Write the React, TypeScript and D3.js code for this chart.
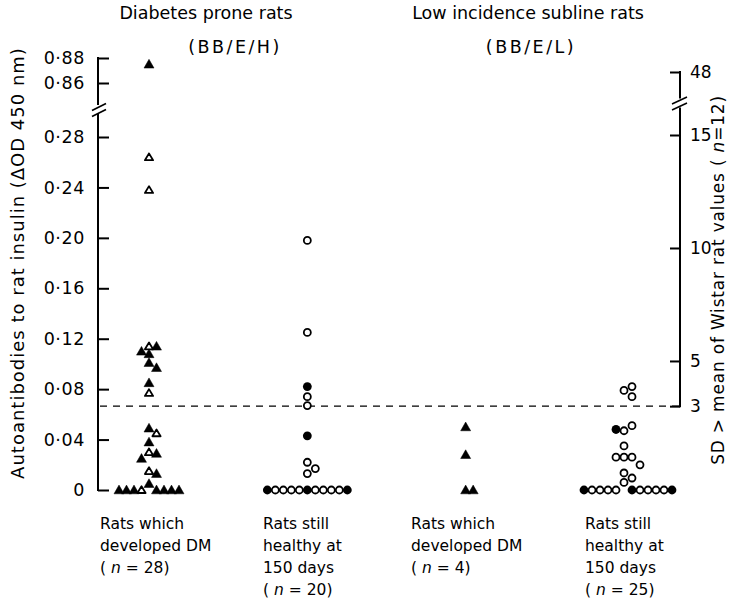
import React, { useRef, useEffect } from "react";
import * as d3 from "d3";

const width = 743;
const height = 598;

const groups = ["dmBBEH", "healthyBBEH", "dmBBEL", "healthyBBEL"];
const groupLabels = [
  ["Rats which", "developed DM", "(|28)"],
  ["Rats still", "healthy at", "150 days", "(|20)"],
  ["Rats which", "developed DM", "(|4)"],
  ["Rats still", "healthy at", "150 days", "(|25)"],
];

// autoantibody values (ΔOD 450 nm), listed top to bottom; 1 = filled symbol, 0 = open
const dmBBEH = [0.875, 0.264, 0.238, 0.114, 0.114, 0.110, 0.108, 0.101, 0.097, 0.085, 0.077,
  0.049, 0.045, 0.038, 0.030, 0.029, 0.025, 0.015, 0.013, 0.005, 0, 0, 0, 0, 0, 0, 0, 0];
const dmBBEHFill = [1, 0, 0, 0, 1, 1, 1, 1, 1, 1, 0,
  1, 0, 1, 0, 1, 1, 0, 1, 1, 1, 0, 1, 1, 1, 1, 1, 1];
const healthyBBEH = [0.198, 0.125, 0.082, 0.074, 0.067, 0.043, 0.022, 0.017, 0.013,
  0, 0, 0, 0, 0, 0, 0, 0, 0, 0, 0];
const healthyBBEHFill = [0, 0, 1, 0, 0, 1, 0, 0, 0,
  1, 0, 0, 0, 0, 0, 0, 0, 0, 1, 1];
const dmBBEL = [0.050, 0.028, 0, 0];
const dmBBELFill = [1, 1, 1, 1];
const healthyBBEL = [0.079, 0.082, 0.074, 0.047, 0.051, 0.048, 0.035, 0.026, 0.026, 0.026, 0.020,
  0.0135, 0.0095, 0.006, 0, 0, 0, 0, 0, 0, 0, 0, 0, 0, 0];
const healthyBBELFill = [0, 0, 0, 0, 0, 1, 0, 0, 0, 0, 0,
  0, 0, 0, 1, 0, 0, 0, 0, 0, 0, 0, 0, 1, 1];

const groupValues = [dmBBEH, healthyBBEH, dmBBEL, healthyBBEL];
const groupFills = [dmBBEHFill, healthyBBEHFill, dmBBELFill, healthyBBELFill];
const groupShape = ["triangle", "circle", "triangle", "circle"];

const odTicksLow = [0, 0.04, 0.08, 0.12, 0.16, 0.2, 0.24, 0.28];
const odTicksHigh = [0.86, 0.88];
const sdTicksLow = [3, 5, 10, 15];
const sdTicksHigh = [48];
const sdCutoff = 3;

const font = "DejaVu Sans, sans-serif";
const axisLeftX = 98;
const axisRightX = 680;

const fmtOD = (d: number) => (d === 0 ? "0" : d3.format(".2f")(d).replace(".", "·"));

// place points of one column side by side where they would overlap
function dodge(values: number[], cx: number, y: (v: number) => number, step: number, minDist: number) {
  const placed: { x: number; y: number }[] = [];
  const order = [0, 1, -1, 2, -2, 3, -3, 4, -4, 5, -5, 6, -6, 7, -7];
  return values.map((v) => {
    const py = y(v);
    for (const k of order) {
      const px = cx + k * step;
      if (placed.every((p) => (p.x - px) ** 2 + (p.y - py) ** 2 >= minDist * minDist)) {
        const pt = { x: px, y: py };
        placed.push(pt);
        return pt;
      }
    }
    return { x: cx, y: py };
  });
}

const App = () => {
  const ref = useRef<SVGSVGElement>(null);

  useEffect(() => {
    const svg = d3.select(ref.current);
    svg.selectAll("*").remove();
    svg.attr("font-family", font);

    const yLow = d3.scaleLinear().domain([0, 0.28]).range([490, 137]);
    const yHigh = d3.scaleLinear().domain([0.86, 0.88]).range([83, 58]);
    const yOD = (v: number) => (v > 0.5 ? yHigh(v) : yLow(v));
    const yRLow = d3.scaleLinear().domain([3, 15]).range([yLow(0.0665), 135]);
    const yRHigh = d3.scaleLinear().domain([47, 48]).range([84, 72]);
    const x = d3.scalePoint().domain(groups).range([149, 624]);

    // left axis
    const leftBreak = (yHigh(0.86) + yLow(0.28)) / 2;
    [d3.axisLeft(yLow).tickValues(odTicksLow), d3.axisLeft(yHigh).tickValues(odTicksHigh)].forEach((ax) => {
      svg.append("g")
        .attr("transform", `translate(${axisLeftX},0)`)
        .call(ax.tickSizeInner(-11).tickSizeOuter(0).tickPadding(13).tickFormat((d) => fmtOD(+d)))
        .call((g) => g.select(".domain").remove())
        .call((g) => g.selectAll(".tick line").attr("stroke", "#000").attr("stroke-width", 2))
        .call((g) => g.selectAll("text").attr("font-size", 17.5).attr("letter-spacing", 0.6)
          .attr("font-family", font).attr("fill", "#000"));
    });
    const axisLines = svg.append("g").attr("stroke", "#000").attr("stroke-width", 2).attr("fill", "none");
    axisLines.append("line").attr("x1", axisLeftX).attr("x2", axisLeftX).attr("y1", yHigh(0.88) - 1).attr("y2", leftBreak - 5);
    axisLines.append("line").attr("x1", axisLeftX).attr("x2", axisLeftX).attr("y1", leftBreak + 4).attr("y2", yLow(0) + 1);
    [-3, 3].forEach((o) => {
      axisLines.append("line").attr("stroke-width", 1.6)
        .attr("x1", axisLeftX - 6).attr("y1", leftBreak + o + 3.5)
        .attr("x2", axisLeftX + 8).attr("y2", leftBreak + o - 3.5);
    });

    // right axis
    const rightBreak = (yRHigh(48) + yRLow(15)) / 2;
    [d3.axisRight(yRLow).tickValues(sdTicksLow), d3.axisRight(yRHigh).tickValues(sdTicksHigh)].forEach((ax) => {
      svg.append("g")
        .attr("transform", `translate(${axisRightX},0)`)
        .call(ax.tickSizeInner(-10).tickSizeOuter(0).tickPadding(10).tickFormat(d3.format("d")))
        .call((g) => g.select(".domain").remove())
        .call((g) => g.selectAll(".tick line").attr("stroke", "#000").attr("stroke-width", 2))
        .call((g) => g.selectAll("text").attr("font-size", 17).attr("font-family", font).attr("fill", "#000"));
    });
    axisLines.append("line").attr("x1", axisRightX).attr("x2", axisRightX).attr("y1", yRHigh(48) - 1).attr("y2", rightBreak - 5);
    axisLines.append("line").attr("x1", axisRightX).attr("x2", axisRightX).attr("y1", rightBreak + 4).attr("y2", yRLow(sdCutoff) + 1);
    [-3, 3].forEach((o) => {
      axisLines.append("line").attr("stroke-width", 1.6)
        .attr("x1", axisRightX - 8).attr("y1", rightBreak + o + 3.5)
        .attr("x2", axisRightX + 7).attr("y2", rightBreak + o - 3.5);
    });

    // cut-off line
    svg.append("line")
      .attr("x1", axisLeftX + 2).attr("x2", axisRightX)
      .attr("y1", yRLow(sdCutoff)).attr("y2", yRLow(sdCutoff))
      .attr("stroke", "#000").attr("stroke-width", 1.4).attr("stroke-dasharray", "7,6");

    // points
    groups.forEach((gName, gi) => {
      const tri = groupShape[gi] === "triangle";
      const pts = dodge(groupValues[gi], x(gName)!, yOD, tri ? 7.5 : 8, tri ? 7 : 7.6);
      const g = svg.append("g");
      pts.forEach((p, i) => {
        const filled = groupFills[gi][i] === 1;
        if (tri) {
          const w = filled ? 5 : 4.1;
          const top = filled ? 4.9 : 3.8;
          const bot = filled ? 3.8 : 3;
          g.append("path")
            .attr("d", `M${p.x - w},${p.y + bot}L${p.x + w},${p.y + bot}L${p.x},${p.y - top}Z`)
            .attr("fill", filled ? "#000" : "#fff")
            .attr("stroke", "#000")
            .attr("stroke-width", filled ? 0.5 : 1.8)
            .attr("stroke-linejoin", "round");
        } else {
          g.append("circle")
            .attr("cx", p.x).attr("cy", p.y)
            .attr("r", filled ? 4.4 : 3.5)
            .attr("fill", filled ? "#000" : "#fff")
            .attr("stroke", filled ? "none" : "#000")
            .attr("stroke-width", 1.8);
        }
      });
    });

    // column labels
    const labelX = [100, 263, 411, 585];
    groupLabels.forEach((lines, gi) => {
      const t = svg.append("text").attr("font-size", 15.5).attr("fill", "#000");
      lines.forEach((line, li) => {
        const ts = t.append("tspan").attr("x", labelX[gi]).attr("y", 529 + li * 22);
        if (line.startsWith("(|")) {
          ts.text("( ");
          t.append("tspan").attr("font-style", "italic").text("n");
          t.append("tspan").text(` = ${line.slice(2, -1)})`);
        } else {
          ts.text(line);
        }
      });
    });

    // headings
    const head = svg.append("g").attr("font-size", 17.5).attr("text-anchor", "middle").attr("fill", "#000");
    head.append("text").attr("x", 206).attr("y", 19).text("Diabetes prone rats");
    head.append("text").attr("x", 235).attr("y", 53).attr("letter-spacing", 2.5).text("(BB/E/H)");
    head.append("text").attr("x", 528).attr("y", 19).text("Low incidence subline rats");
    head.append("text").attr("x", 531).attr("y", 53).attr("letter-spacing", 2.5).text("(BB/E/L)");

    // axis titles
    svg.append("text")
      .attr("transform", `translate(24,263) rotate(-90)`)
      .attr("text-anchor", "middle").attr("font-size", 18).attr("letter-spacing", 1)
      .text("Autoantibodies to rat insulin (ΔOD 450 nm)");
    const rt = svg.append("text")
      .attr("transform", `translate(724,280) rotate(-90)`)
      .attr("text-anchor", "middle").attr("font-size", 17).attr("letter-spacing", 0.8);
    rt.append("tspan").text("SD > mean of Wistar rat values ( ");
    rt.append("tspan").attr("font-style", "italic").text("n");
    rt.append("tspan").text("=12)");
  }, []);

  return (
    <svg
      ref={ref}
      width={width}
      height={height}
      viewBox={`0 0 ${width} ${height}`}
      style={{ position: "absolute", left: 0, top: 0, background: "#fff" }}
    />
  );
};

export default App;
